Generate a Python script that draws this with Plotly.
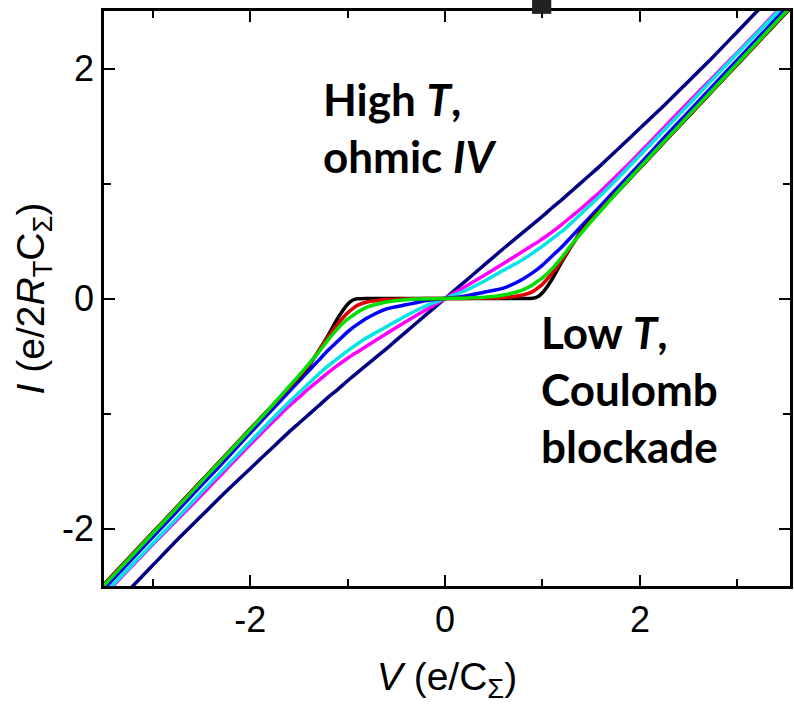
import plotly.graph_objects as go

# Bias voltage grid V (e/C_Sigma)
V = [-3.7, -3.5, -3.25, -3.0, -2.75, -2.5, -2.25, -2.0, -1.8, -1.6, -1.5, -1.4, -1.3, -1.2, -1.1,
     -1.0, -0.95, -0.9, -0.8, -0.6, -0.4, -0.2, 0, 0.2, 0.4, 0.6, 0.8, 0.9, 0.95, 1.0, 1.1, 1.2,
     1.3, 1.4, 1.5, 1.6, 1.8, 2.0, 2.25, 2.5, 2.75, 3.0, 3.25, 3.5, 3.7]

# Current I (e/2R_T C_Sigma) for each temperature, low T -> high T
I_black = [-2.665, -2.485, -2.26, -2.035, -1.81, -1.585, -1.36, -1.135, -0.955, -0.775, -0.69, -0.59,
           -0.46, -0.32, -0.17, -0.05, -0.015, -0.003, 0, 0, 0, 0, 0, 0, 0, 0, 0, 0.003, 0.015, 0.05,
           0.17, 0.32, 0.46, 0.59, 0.69, 0.775, 0.955, 1.135, 1.36, 1.585, 1.81, 2.035, 2.26, 2.485, 2.665]
I_red = [-2.668, -2.488, -2.263, -2.038, -1.813, -1.588, -1.363, -1.138, -0.958, -0.775, -0.68, -0.58,
         -0.46, -0.335, -0.22, -0.125, -0.09, -0.06, -0.03, -0.008, -0.003, -0.001, 0, 0.001, 0.003,
         0.008, 0.03, 0.06, 0.09, 0.125, 0.22, 0.335, 0.46, 0.58, 0.68, 0.775, 0.958, 1.138, 1.363,
         1.588, 1.813, 2.038, 2.263, 2.488, 2.668]
I_green = [-2.675, -2.495, -2.27, -2.044, -1.818, -1.592, -1.366, -1.14, -0.955, -0.765, -0.67, -0.57,
           -0.47, -0.36, -0.26, -0.18, -0.15, -0.12, -0.075, -0.03, -0.01, -0.003, 0, 0.003, 0.01, 0.03,
           0.075, 0.12, 0.15, 0.18, 0.26, 0.36, 0.47, 0.57, 0.67, 0.765, 0.955, 1.14, 1.366, 1.592,
           1.818, 2.044, 2.27, 2.495, 2.675]
I_blue = [-2.705, -2.525, -2.30, -2.075, -1.85, -1.625, -1.40, -1.17, -0.99, -0.81, -0.72, -0.63,
          -0.54, -0.45, -0.37, -0.29, -0.255, -0.225, -0.17, -0.09, -0.055, -0.02, 0, 0.02, 0.055, 0.09,
          0.17, 0.225, 0.255, 0.29, 0.37, 0.45, 0.54, 0.63, 0.72, 0.81, 0.99, 1.17, 1.40, 1.625, 1.85,
          2.075, 2.30, 2.525, 2.705]
I_cyan = [-2.75, -2.57, -2.35, -2.13, -1.91, -1.685, -1.465, -1.245, -1.07, -0.90, -0.82, -0.74,
          -0.66, -0.585, -0.52, -0.455, -0.425, -0.395, -0.34, -0.245, -0.15, -0.065, 0, 0.065, 0.15,
          0.245, 0.34, 0.395, 0.425, 0.455, 0.52, 0.585, 0.66, 0.74, 0.82, 0.90, 1.07, 1.245, 1.465,
          1.685, 1.91, 2.13, 2.35, 2.57, 2.75]
I_magenta = [-2.76, -2.58, -2.36, -2.14, -1.925, -1.71, -1.49, -1.27, -1.10, -0.935, -0.86, -0.785,
             -0.715, -0.645, -0.58, -0.52, -0.49, -0.465, -0.41, -0.305, -0.20, -0.10, 0, 0.10, 0.20,
             0.305, 0.41, 0.465, 0.49, 0.52, 0.58, 0.645, 0.715, 0.785, 0.86, 0.935, 1.10, 1.27, 1.49,
             1.71, 1.925, 2.14, 2.36, 2.58, 2.76]
I_navy = [-2.93, -2.76, -2.54, -2.32, -2.10, -1.89, -1.68, -1.48, -1.32, -1.16, -1.085, -1.01,
          -0.935, -0.86, -0.79, -0.715, -0.68, -0.645, -0.575, -0.435, -0.29, -0.145, 0, 0.145, 0.29,
          0.435, 0.575, 0.645, 0.68, 0.715, 0.79, 0.86, 0.935, 1.01, 1.085, 1.16, 1.32, 1.48, 1.68,
          1.89, 2.10, 2.32, 2.54, 2.76, 2.93]

tick_vals = [-2, 0, 2]
tick_text = ["-2", "0", "2"]

series = [
    ("navy", I_navy, "#000080"),
    ("magenta", I_magenta, "#ff00ff"),
    ("cyan", I_cyan, "#00e5e5"),
    ("blue", I_blue, "#0000ff"),
    ("black", I_black, "#000000"),
    ("red", I_red, "#e00000"),
    ("green", I_green, "#00e000"),
]

fig = go.Figure()
for name, ys, col in series:
    fig.add_trace(go.Scatter(x=V, y=ys, mode="lines", name=name,
                             line=dict(color=col, width=3.5, shape="spline", smoothing=0.6),
                             showlegend=False))

fam = "Liberation Sans Narrow, Arial Narrow, Liberation Sans, Arial"
tickfont = dict(family=fam, size=36, color="black")
titlefont = dict(family=fam, size=39, color="black")

axis_common = dict(showline=True, linecolor="black", linewidth=2.5, mirror="ticks",
                   ticks="inside", ticklen=11, tickwidth=2, tickcolor="black",
                   showgrid=False, zeroline=False, tickfont=tickfont,
                   tickmode="array", tickvals=tick_vals, ticktext=tick_text,
                   minor=dict(ticks="inside", ticklen=7, tickwidth=2, tickcolor="black",
                              tickmode="linear", tick0=0, dtick=1, showgrid=False))

fig.update_xaxes(range=[-3.5, 3.54], **axis_common,
                 title=dict(text="<i>V</i> (e/C<sub>Σ</sub>)", font=titlefont, standoff=24))
fig.update_yaxes(range=[-2.5, 2.5], **axis_common,
                 title=dict(text="<i>I</i> (e/2<i>R</i><sub>T</sub>C<sub>Σ</sub>)", font=titlefont, standoff=6))

annfont = dict(family="Lato, Open Sans, sans-serif", size=44, color="black")
fig.add_annotation(text="<b>High <i>T</i>,<br>ohmic <i>IV</i></b>", xref="paper", yref="paper",
                   x=0.316, y=0.895, xanchor="left", yanchor="top", align="left",
                   showarrow=False, font=annfont)
fig.add_annotation(text="<b>Low <i>T</i>,<br>Coulomb<br>blockade</b>", xref="paper", yref="paper",
                   x=0.634, y=0.49, xanchor="left", yanchor="top", align="left",
                   showarrow=False, font=annfont)

# small dark mark above the frame
fig.add_shape(type="rect", xref="paper", yref="paper", x0=0.624, x1=0.652, y0=0.995, y1=1.03,
              fillcolor="#222222", line=dict(width=0), layer="above")

fig.update_layout(width=794, height=711, margin=dict(l=104, r=1, t=11, b=125),
                  plot_bgcolor="white", paper_bgcolor="white")

fig.write_html("out.html")
